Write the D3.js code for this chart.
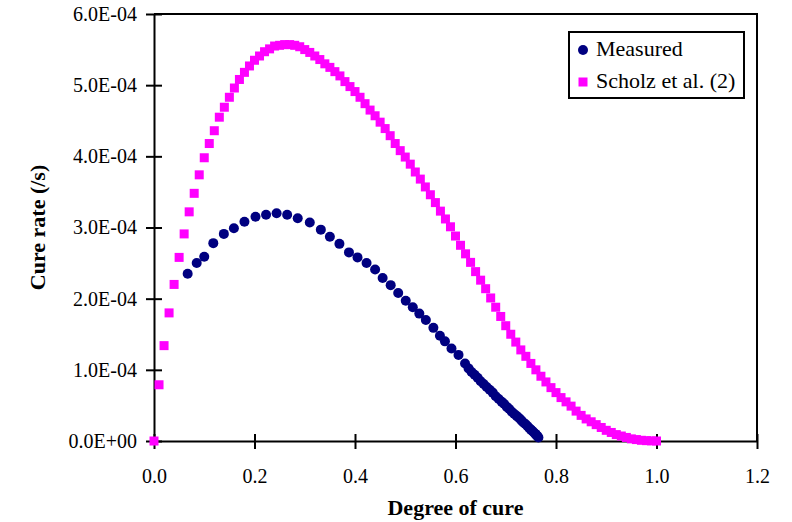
<!DOCTYPE html>
<html>
<head>
<meta charset="utf-8">
<script src="https://cdn.jsdelivr.net/npm/d3@7"></script>
<style>
  body { margin: 0; background: #fff; }
  svg { display: block; }
</style>
</head>
<body>
<svg id="chart"></svg>
<script>
// cure rate values are written in units of 1e-4 /s
const RATE_UNIT = 1e-4;

const xTicks = [0, 0.2, 0.4, 0.6, 0.8, 1.0, 1.2];
const xTickLabels = ["0.0", "0.2", "0.4", "0.6", "0.8", "1.0", "1.2"];
const yTicks = [0, 1e-4, 2e-4, 3e-4, 4e-4, 5e-4, 6e-4];
const yTickLabels = ["0.0E+00", "1.0E-04", "2.0E-04", "3.0E-04", "4.0E-04", "5.0E-04", "6.0E-04"];

const seriesNames = ["Measured", "Scholz et al. (2)"];

const measuredCure = [
  0.067, 0.085, 0.100, 0.118, 0.139, 0.159, 0.180, 0.202, 0.223, 0.244,
  0.265, 0.286, 0.310, 0.332, 0.350, 0.369, 0.388, 0.405, 0.423, 0.440,
  0.455, 0.471, 0.486, 0.501, 0.515, 0.528, 0.541, 0.556, 0.569, 0.579,
  0.592, 0.606, 0.619, 0.626, 0.632, 0.638, 0.644, 0.650, 0.656, 0.662,
  0.668, 0.674, 0.680, 0.686, 0.692, 0.697, 0.702, 0.707, 0.712, 0.717,
  0.722, 0.727, 0.731, 0.735, 0.739, 0.743, 0.747, 0.750, 0.753, 0.756,
  0.759, 0.761, 0.763, 0.765
];
const measuredRate = [
  2.35, 2.50, 2.59, 2.78, 2.91, 2.99, 3.08, 3.15, 3.18, 3.20,
  3.18, 3.13, 3.07, 2.97, 2.87, 2.77, 2.65, 2.58, 2.50, 2.41,
  2.29, 2.19, 2.08, 1.97, 1.88, 1.79, 1.70, 1.59, 1.48, 1.40,
  1.30, 1.21, 1.09, 1.02, 0.97, 0.93, 0.89, 0.84, 0.80, 0.76,
  0.72, 0.68, 0.63, 0.59, 0.55, 0.52, 0.48, 0.45, 0.41, 0.38,
  0.35, 0.32, 0.29, 0.26, 0.24, 0.21, 0.18, 0.16, 0.14, 0.12,
  0.10, 0.08, 0.07, 0.05
];

const scholzCure = [
  0.00, 0.01, 0.02, 0.03, 0.04, 0.05, 0.06, 0.07, 0.08, 0.09,
  0.10, 0.11, 0.12, 0.13, 0.14, 0.15, 0.16, 0.17, 0.18, 0.19,
  0.20, 0.21, 0.22, 0.23, 0.24, 0.25, 0.26, 0.27, 0.28, 0.29,
  0.30, 0.31, 0.32, 0.33, 0.34, 0.35, 0.36, 0.37, 0.38, 0.39,
  0.40, 0.41, 0.42, 0.43, 0.44, 0.45, 0.46, 0.47, 0.48, 0.49,
  0.50, 0.51, 0.52, 0.53, 0.54, 0.55, 0.56, 0.57, 0.58, 0.59,
  0.60, 0.61, 0.62, 0.63, 0.64, 0.65, 0.66, 0.67, 0.68, 0.69,
  0.70, 0.71, 0.72, 0.73, 0.74, 0.75, 0.76, 0.77, 0.78, 0.79,
  0.80, 0.81, 0.82, 0.83, 0.84, 0.85, 0.86, 0.87, 0.88, 0.89,
  0.90, 0.91, 0.92, 0.93, 0.94, 0.95, 0.96, 0.97, 0.98, 0.99,
  1.00
];
const scholzRate = [
  0.00, 0.79, 1.34, 1.80, 2.20, 2.58, 2.91, 3.22, 3.48, 3.74,
  3.98, 4.18, 4.36, 4.55, 4.69, 4.83, 4.96, 5.08, 5.18, 5.27,
  5.35, 5.41, 5.47, 5.51, 5.55, 5.56, 5.57, 5.57, 5.56, 5.54,
  5.50, 5.46, 5.41, 5.36, 5.30, 5.25, 5.19, 5.13, 5.05, 4.98,
  4.91, 4.83, 4.74, 4.65, 4.57, 4.48, 4.39, 4.29, 4.18, 4.08,
  3.99, 3.89, 3.78, 3.68, 3.57, 3.46, 3.35, 3.23, 3.12, 3.01,
  2.88, 2.75, 2.63, 2.51, 2.38, 2.26, 2.14, 2.01, 1.88, 1.75,
  1.62, 1.50, 1.39, 1.28, 1.19, 1.09, 1.00, 0.91, 0.83, 0.75,
  0.68, 0.61, 0.55, 0.49, 0.42, 0.36, 0.31, 0.27, 0.23, 0.19,
  0.15, 0.12, 0.09, 0.07, 0.05, 0.03, 0.02, 0.01, 0.005, 0.002,
  0.00
];

const width = 792;
const height = 522;
const margin = { top: 14, right: 35, bottom: 81, left: 154 };

const measured = measuredCure.map((c, i) => ({ x: c, y: measuredRate[i] * RATE_UNIT }));
const scholz = scholzCure.map((c, i) => ({ x: c, y: scholzRate[i] * RATE_UNIT }));

const svg = d3.select("#chart").attr("width", width).attr("height", height);

const x = d3.scaleLinear().domain([0, 1.2]).range([margin.left, width - margin.right]);
const y = d3.scaleLinear().domain([0, 6e-4]).range([height - margin.bottom, margin.top]);

const serif = "'Liberation Serif', 'Times New Roman', serif";

// frame (top and right edges)
svg.append("path")
  .attr("d", "M" + x(0) + "," + y(6e-4) + "H" + x(1.2) + "V" + y(0))
  .attr("fill", "none")
  .attr("stroke", "#000")
  .attr("stroke-width", 2);

// x axis
const xAxis = svg.append("g")
  .attr("transform", "translate(0," + y(0) + ")")
  .call(d3.axisBottom(x).tickValues(xTicks).tickFormat((d, i) => xTickLabels[i]).tickSizeOuter(0));
xAxis.select(".domain").attr("stroke-width", 2);
xAxis.selectAll(".tick line").attr("y1", -7).attr("y2", 8).attr("stroke-width", 2);
xAxis.selectAll(".tick text")
  .attr("y", 42)
  .attr("dy", 0)
  .style("font-family", serif)
  .style("font-size", "20px")
  .attr("fill", "#000");

// y axis
const yAxis = svg.append("g")
  .attr("transform", "translate(" + x(0) + ",0)")
  .call(d3.axisLeft(y).tickValues(yTicks).tickFormat((d, i) => yTickLabels[i]).tickSizeOuter(0));
yAxis.select(".domain").attr("stroke-width", 2);
yAxis.selectAll(".tick line").attr("x1", -8).attr("x2", 8).attr("stroke-width", 2);
yAxis.selectAll(".tick text")
  .attr("x", -17)
  .style("font-family", serif)
  .style("font-size", "20px")
  .attr("fill", "#000");

// axis titles
svg.append("text")
  .attr("x", (x(0) + x(1.2)) / 2)
  .attr("y", 515)
  .attr("text-anchor", "middle")
  .style("font-family", serif)
  .style("font-size", "22px")
  .style("font-weight", "bold")
  .text("Degree of cure");

svg.append("text")
  .attr("transform", "translate(45," + (y(0) + y(6e-4)) / 2 + ") rotate(-90)")
  .attr("text-anchor", "middle")
  .style("font-family", serif)
  .style("font-size", "22px")
  .style("font-weight", "bold")
  .text("Cure rate (/s)");

// measured points
svg.append("g")
  .selectAll("circle")
  .data(measured)
  .enter()
  .append("circle")
  .attr("cx", d => x(d.x))
  .attr("cy", d => y(d.y))
  .attr("r", 5)
  .attr("fill", "#000080");

// model points
const sq = 9;
svg.append("g")
  .selectAll("rect")
  .data(scholz)
  .enter()
  .append("rect")
  .attr("x", d => x(d.x) - sq / 2)
  .attr("y", d => y(d.y) - sq / 2)
  .attr("width", sq)
  .attr("height", sq)
  .attr("fill", "#ff00ff");

// legend
const legend = svg.append("g").attr("transform", "translate(569,32)");
legend.append("rect")
  .attr("width", 175)
  .attr("height", 66)
  .attr("fill", "#fff")
  .attr("stroke", "#000")
  .attr("stroke-width", 2);
legend.append("circle").attr("cx", 14).attr("cy", 18).attr("r", 5).attr("fill", "#000080");
legend.append("rect").attr("x", 14 - sq / 2).attr("y", 50 - sq / 2).attr("width", sq).attr("height", sq).attr("fill", "#ff00ff");
legend.selectAll("text.lab")
  .data(seriesNames)
  .enter()
  .append("text")
  .attr("class", "lab")
  .attr("x", 27)
  .attr("y", (d, i) => 24 + i * 32)
  .style("font-family", serif)
  .style("font-size", "22px")
  .text(d => d);
</script>
</body>
</html>
